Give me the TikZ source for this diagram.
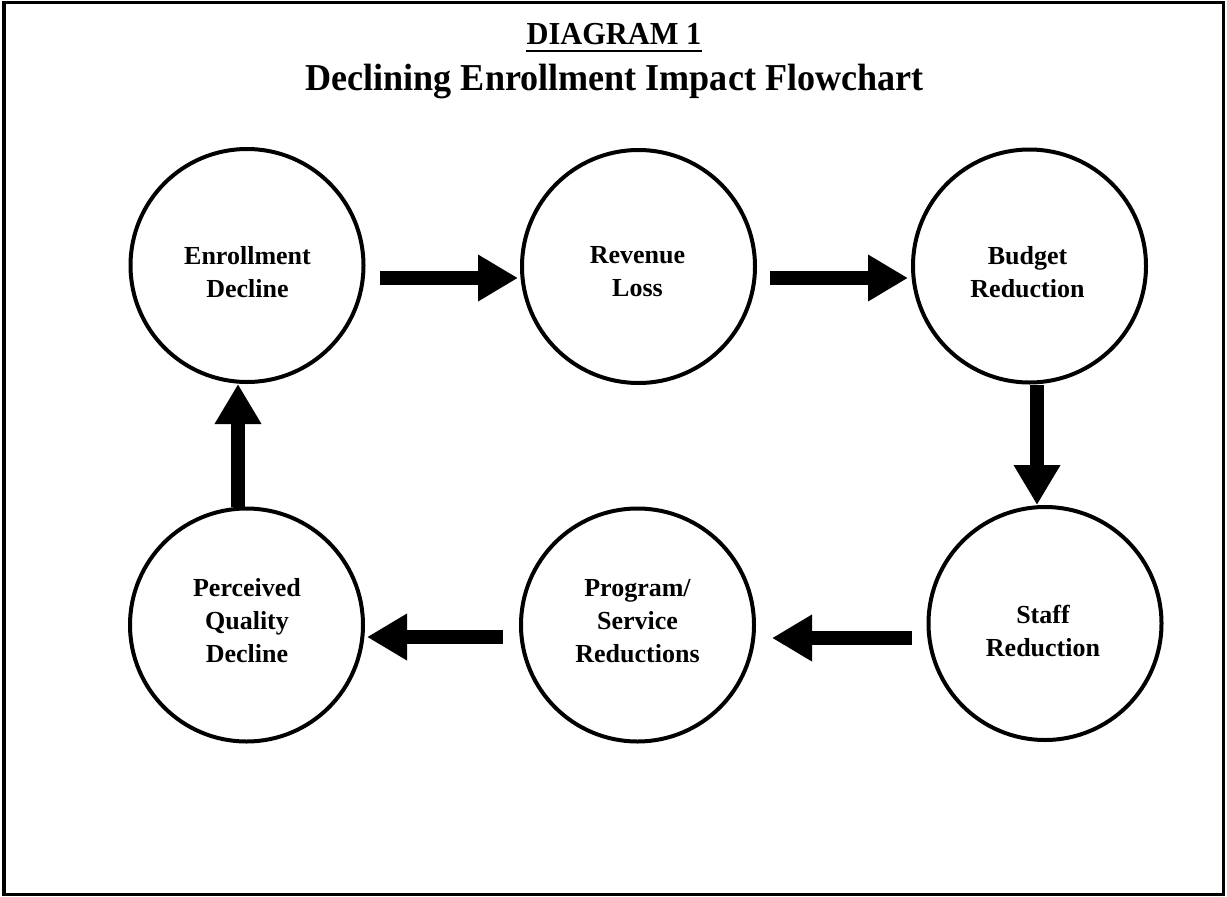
\documentclass[tikz,border=0pt]{standalone}
\usepackage{fontspec}
\setmainfont{Liberation Serif}
\newfontfamily\titlefont[FakeStretch=0.95]{Liberation Serif}
\usetikzlibrary{arrows.meta,calc}
\begin{document}
\begin{tikzpicture}[x=1pt,y=-1pt,
  circ/.style={circle,draw,line width=4pt,minimum size=233pt,inner sep=0pt},
  lbl/.style={font=\fontsize{26}{33}\selectfont\bfseries,align=center,inner sep=0pt},
  arr/.style={line width=14pt,-{Triangle[length=40pt,width=44pt]}},
  ttl/.style={inner sep=0pt,anchor=base}]
\useasboundingbox (0,0) rectangle (1227,897);
\draw[line width=3.5pt] (4,2.5) rectangle (1223.5,894.5);
% title
\node[ttl,font=\titlefont\fontsize{32}{38}\selectfont\bfseries] (t1) at (614,44) {DIAGRAM 1};
\draw[line width=2pt] ($(t1.base west)+(0,6.5)$) -- ($(t1.base east)+(0,6.5)$);
\node[ttl,font=\titlefont\fontsize{38}{44}\selectfont\bfseries] (t2) at (614.5,90) {Declining Enrollment Impact Flowchart};
% circles
\node[circ] (enroll) at (247,265.5) {};
\node[circ] (revenue) at (638.5,266.5) {};
\node[circ] (budget) at (1029.5,266) {};
\node[circ] (staff) at (1045,623.5) {};
\node[circ] (program) at (637.5,625) {};
\node[circ] (perceived) at (246.5,625) {};
% labels
\node[lbl] (l1) at (247.5,272) {Enrollment\\Decline};
\node[lbl] (l2) at (637.5,272) {Revenue\\Loss};
\node[lbl] (l3) at (1027.5,272) {Budget\\Reduction};
\node[lbl] (l4) at (1043,631) {Staff\\Reduction};
\node[lbl] (l5) at (637.5,621) {Program/\\Service\\Reductions};
\node[lbl] (l6) at (247,621) {Perceived\\Quality\\Decline};
% arrows
\draw[arr] ($(enroll.east)+(14,12.5)$) -- ($(revenue.west)+(-2,11.5)$);
\draw[arr] ($(revenue.east)+(13,11.5)$) -- ($(budget.west)+(-3,12)$);
\draw[arr] ($(budget.south)+(7.5,0)$) -- ($(staff.north)+(-8,0)$);
\draw[arr] ($(staff.west)+(-14.5,14.5)$) -- ($(program.east)+(16,13)$);
\draw[arr] ($(program.west)+(-16,12)$) -- ($(perceived.east)+(2,12)$);
\draw[arr] ($(perceived.north)+(-8.5,0)$) -- ($(enroll.south)+(-9,0)$);
\end{tikzpicture}
\end{document}
